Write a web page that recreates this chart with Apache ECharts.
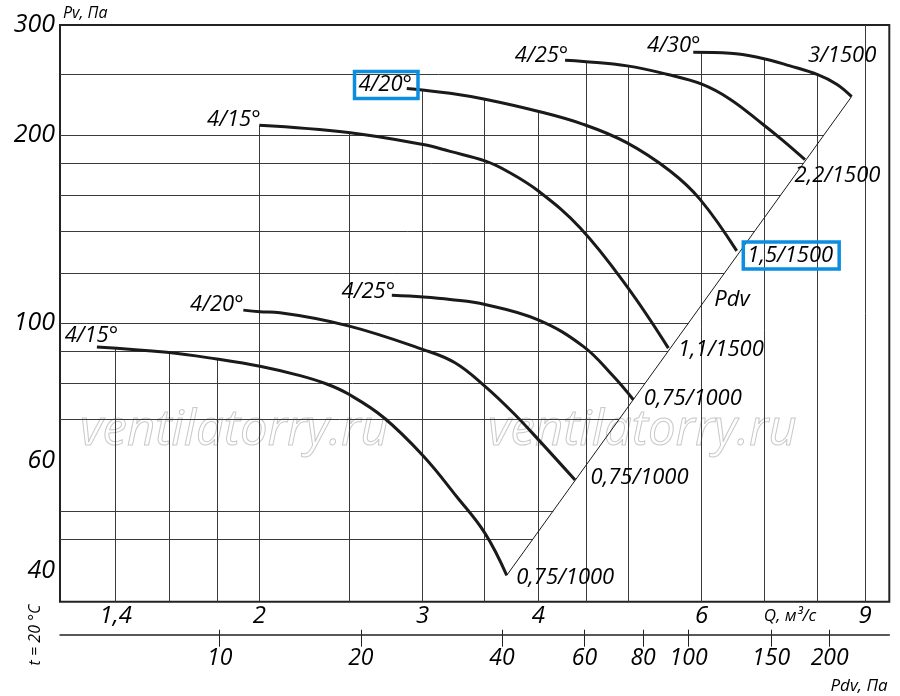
<!DOCTYPE html>
<html lang="ru">
<head>
<meta charset="UTF-8">
<title>Pv - Q</title>
<script src="https://cdn.jsdelivr.net/npm/echarts@6/dist/echarts.min.js"></script>
<style>
  html, body { margin: 0; padding: 0; background: #fff; }
  #chart { width: 900px; height: 696px; }
</style>
</head>
<body>
<div id="chart"></div>
<script>
// curves: Q, m3/s  and  Pv, Pa
const curveA_q = [1.336, 1.589, 1.799, 2.003, 2.213, 2.364, 2.495, 2.721, 3.005, 3.264, 3.503, 3.697];
const curveA_p = [91.5, 89.7, 87.5, 85.2, 82.3, 79.8, 76.9, 70.6, 61.2, 52.7, 46.0, 39.4];
const curveB_q = [1.922, 2.003, 2.105, 2.495, 3.005, 3.251, 3.503, 3.758, 3.999, 4.381];
const curveB_p = [104.8, 104.2, 103.8, 98.9, 90.6, 86.3, 79.1, 71.7, 65.0, 56.0];
const curveC_q = [2.779, 3.005, 3.212, 3.503, 3.991, 4.471, 4.818, 5.063];
const curveC_p = [110.7, 110.0, 109.0, 107.0, 101.2, 91.7, 82.1, 75.3];
const curveD_q = [2.0, 2.495, 3.005, 3.212, 3.508, 3.697, 3.999, 4.435, 4.98, 5.523];
const curveD_p = [207.3, 201.8, 193.0, 188.2, 181.6, 175.1, 162.6, 142.0, 114.5, 91.1];
const curveE_q = [2.884, 2.98, 3.212, 3.503, 3.983, 4.471, 4.98, 5.546, 5.975, 6.545];
const curveE_p = [237.4, 236.2, 233.3, 228.2, 218.5, 208.0, 194.4, 175.1, 157.7, 130.4];
const curveF_q = [4.273, 4.471, 4.987, 5.5, 6.001, 6.437, 6.983, 7.348, 7.754];
const curveF_p = [263.5, 262.3, 258.0, 250.2, 241.2, 228.2, 208.0, 195.6, 182.5];
const curveG_q = [5.875, 6.437, 6.983, 7.471, 8.002, 8.389, 8.706];
const curveG_p = [271.2, 270.4, 265.2, 258.0, 249.8, 241.2, 230.4];

// dynamic pressure line
const pdvLine_q = [3.697, 8.706];
const pdvLine_p = [39.4, 230.4];

const startLabels = ['4/15°', '4/20°', '4/25°', '4/15°', '4/20°', '4/25°', '4/30°'];
const endLabels = ['0,75/1000', '0,75/1000', '0,75/1000', '1,1/1500', '1,5/1500', '2,2/1500', '3/1500'];

// grid and ticks
const gridQ = [1.4, 1.6, 1.8, 2, 2.5, 3, 3.5, 4, 4.5, 5, 6, 7, 8, 9];
const gridP = [45, 50, 70, 80, 90, 100, 120, 140, 160, 180, 200, 250];
const qTicks = [1.4, 2, 3, 4, 6, 9];
const pvTicks = [40, 60, 100, 200, 300];
const pdvTicks = [10, 20, 40, 60, 80, 100, 150, 200];

const Q_MIN = 1.219, Q_MAX = 9.56;
const PV_MIN = 35.75, PV_MAX = 300;
const PDV_MIN = 4.565, PDV_MAX = 268;

const curvesQ = [curveA_q, curveB_q, curveC_q, curveD_q, curveE_q, curveF_q, curveG_q];
const curvesP = [curveA_p, curveB_p, curveC_p, curveD_p, curveE_p, curveF_p, curveG_p];

// label placement (offset of label centre from curve end, px)
const startOffsets = [[-5, -11], [-26, -5], [-23, -3], [-25, -5], [-20, -3], [-23, -4], [-19, -6]];
const endOffsets = [[59, 3], [65, -2], [60, -1], [53, 2], [55, 5], [33, 16], [-9, -40]];
const boxed = { start: [4], end: [4] };
const BLUE = '#0b8de0';
const INK = '#000';
const FONT = '"Open Sans", "DejaVu Sans", sans-serif';

// log-log interpolation along a curve
function interp(qs, ps, q) {
  if (q < qs[0] - 1e-9 || q > qs[qs.length - 1] + 1e-9) return null;
  for (let i = 0; i < qs.length - 1; i++) {
    if (q <= qs[i + 1] + 1e-9) {
      const t = (Math.log(q) - Math.log(qs[i])) / (Math.log(qs[i + 1]) - Math.log(qs[i]));
      return Math.exp(Math.log(ps[i]) + t * (Math.log(ps[i + 1]) - Math.log(ps[i])));
    }
  }
  return ps[ps.length - 1];
}

function envelope(q) {
  let top = null;
  curvesQ.forEach((qs, k) => {
    const v = interp(qs, curvesP[k], q);
    if (v !== null && (top === null || v > top)) top = v;
  });
  return top === null ? PV_MAX : top;
}

function rightEnd(p) {
  if (p <= pdvLine_p[1]) {
    // along the Pdv line
    const t = (Math.log(p) - Math.log(pdvLine_p[0])) / (Math.log(pdvLine_p[1]) - Math.log(pdvLine_p[0]));
    return Math.exp(Math.log(pdvLine_q[0]) + t * (Math.log(pdvLine_q[1]) - Math.log(pdvLine_q[0])));
  }
  let best = Q_MAX;
  let found = false;
  curvesQ.forEach((qs, k) => {
    const ps = curvesP[k];
    for (let i = 0; i < qs.length - 1; i++) {
      if ((ps[i] - p) * (ps[i + 1] - p) <= 0) {
        const t = (Math.log(p) - Math.log(ps[i])) / (Math.log(ps[i + 1]) - Math.log(ps[i]));
        const q = Math.exp(Math.log(qs[i]) + t * (Math.log(qs[i + 1]) - Math.log(qs[i])));
        if (!found || q > best) { best = q; found = true; }
      }
    }
  });
  return best;
}

const gridLines = [];
gridQ.forEach(q => gridLines.push({ coords: [[q, PV_MIN], [q, envelope(q)]] }));
gridP.forEach(p => gridLines.push({ coords: [[Q_MIN, p], [rightEnd(p), p]] }));

function labelItem(q, p, text, off, box) {
  const label = {
    show: true,
    formatter: text,
    position: off,
    align: 'center',
    verticalAlign: 'middle',
    fontFamily: FONT,
    fontStyle: 'italic',
    fontSize: 22,
    color: INK,
    opacity: 1
  };
  if (box) {
    label.borderColor = BLUE;
    label.borderWidth = 3.5;
    label.padding = [3, 6, 2, 4];
  }
  return { value: [q, p], label: label };
}

const labelData = [];
curvesQ.forEach((qs, k) => {
  const ps = curvesP[k];
  labelData.push(labelItem(qs[0], ps[0], startLabels[k], startOffsets[k], boxed.start.includes(k)));
  const n = qs.length - 1;
  labelData.push(labelItem(qs[n], ps[n], endLabels[k], endOffsets[k], boxed.end.includes(k)));
});

const curveSeries = curvesQ.map((qs, k) => ({
  type: 'line',
  data: qs.map((q, i) => [q, curvesP[k][i]]),
  smooth: 0.4,
  showSymbol: false,
  symbol: 'none',
  lineStyle: { color: '#1a1a1a', width: 3 },
  z: 3,
  silent: true
}));

const commaFmt = v => String(v).replace('.', ',');

const option = {
  animation: false,
  backgroundColor: '#fff',
  grid: {
    left: 60, top: 25, right: 10.7, bottom: 94.3,
    show: true, borderColor: '#222', borderWidth: 2, backgroundColor: 'transparent'
  },
  xAxis: [
    {
      type: 'log', min: Q_MIN, max: Q_MAX, position: 'bottom',
      axisLine: { show: false }, axisTick: { show: false }, splitLine: { show: false },
      axisLabel: {
        customValues: qTicks, formatter: commaFmt, margin: 2,
        fontFamily: FONT, fontStyle: 'italic', fontSize: 24, color: INK
      }
    },
    {
      type: 'log', min: PDV_MIN, max: PDV_MAX, position: 'bottom', offset: 33,
      axisLine: { show: true, lineStyle: { color: '#222', width: 1.5 } },
      axisTick: { show: true, customValues: pdvTicks, length: 12, lineStyle: { color: '#222', width: 1 } },
      splitLine: { show: false },
      axisLabel: {
        customValues: pdvTicks, margin: 12,
        fontFamily: FONT, fontStyle: 'italic', fontSize: 23, color: INK
      }
    },
    {
      type: 'log', min: PDV_MIN, max: PDV_MAX, position: 'bottom', offset: 33,
      axisLine: { show: false },
      axisTick: { show: true, inside: true, customValues: pdvTicks, length: 5, lineStyle: { color: '#222', width: 1 } },
      splitLine: { show: false },
      axisLabel: { show: false }
    }
  ],
  yAxis: {
    type: 'log', min: PV_MIN, max: PV_MAX,
    axisLine: { show: false }, axisTick: { show: false }, splitLine: { show: false },
    axisLabel: {
      customValues: pvTicks, margin: 5,
      fontFamily: FONT, fontStyle: 'italic', fontSize: 25, color: INK
    }
  },
  series: [
    {
      type: 'lines',
      coordinateSystem: 'cartesian2d',
      data: gridLines,
      lineStyle: { color: '#3a3a3a', width: 1, opacity: 1 },
      silent: true,
      z: 1
    },
    {
      type: 'line',
      data: pdvLine_q.map((q, i) => [q, pdvLine_p[i]]),
      showSymbol: false,
      symbol: 'none',
      lineStyle: { color: '#1a1a1a', width: 1 },
      z: 2,
      silent: true
    },
    ...curveSeries,
    {
      type: 'scatter',
      data: labelData,
      symbolSize: 1,
      itemStyle: { color: 'transparent', opacity: 1 },
      z: 4,
      silent: true
    }
  ],
  graphic: [
    { type: 'text', x: 63, y: 13, z: 10,
      style: { text: 'Pv, Па', font: 'italic 16px ' + FONT, fill: INK, align: 'left', verticalAlign: 'middle' } },
    { type: 'text', x: 790, y: 616, z: 10,
      style: { text: 'Q, м³/с', font: 'italic 17px ' + FONT, fill: INK, align: 'center', verticalAlign: 'middle' } },
    { type: 'text', x: 859, y: 686, z: 10,
      style: { text: 'Pdv, Па', font: 'italic 17px ' + FONT, fill: INK, align: 'center', verticalAlign: 'middle' } },
    { type: 'text', x: 35, y: 635, rotation: Math.PI / 2, z: 10,
      style: { text: 't = 20 °C', font: 'italic 16px ' + FONT, fill: INK, align: 'center', verticalAlign: 'middle' } },
    { type: 'text', x: 732, y: 300, z: 10,
      style: { text: 'Pdv', font: 'italic 22px ' + FONT, fill: INK, align: 'center', verticalAlign: 'middle' } },
    { type: 'text', x: 80, y: 431, z: 0,
      style: { text: 'ventilatorry.ru', font: 'italic 49px ' + FONT, fill: 'rgba(255,255,255,0)', stroke: '#c9c9c9', lineWidth: 1, align: 'left', verticalAlign: 'middle' } },
    { type: 'text', x: 488, y: 431, z: 0,
      style: { text: 'ventilatorry.ru', font: 'italic 49px ' + FONT, fill: 'rgba(255,255,255,0)', stroke: '#c9c9c9', lineWidth: 1, align: 'left', verticalAlign: 'middle' } }
  ]
};

const chart = echarts.init(document.getElementById('chart'), null, { renderer: 'canvas' });
chart.setOption(option);
</script>
</body>
</html>
